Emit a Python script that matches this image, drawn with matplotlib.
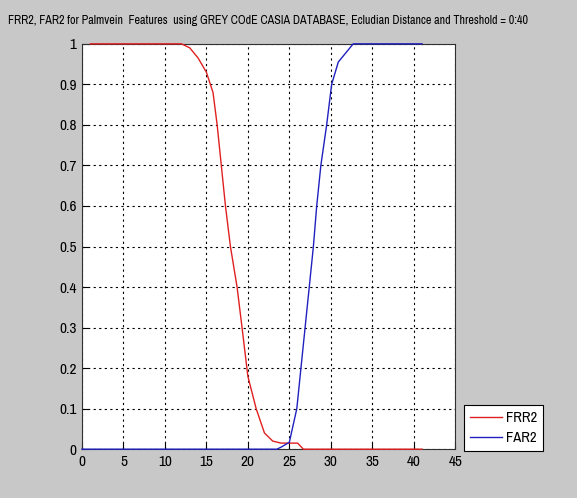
import matplotlib
matplotlib.use("Agg")
import matplotlib.pyplot as plt
from matplotlib import font_manager

# values
frr_x = [1, 12, 13, 14, 15, 15.8, 16.3, 16.8, 17.3, 17.9, 18.7, 19.3, 20, 21, 22, 23, 24, 25, 26, 26.7, 41]
frr_y = [1, 1, 0.99, 0.965, 0.93, 0.88, 0.8, 0.7, 0.6, 0.5, 0.4, 0.3, 0.18, 0.1, 0.04, 0.02, 0.015, 0.015, 0.015, 0, 0]
far_x = [0, 23.5, 24, 25, 25.9, 26.4, 26.9, 27.4, 27.9, 28.3, 28.8, 29.5, 30.1, 30.9, 32.7, 41]
far_y = [0, 0, 0.005, 0.017, 0.1, 0.2, 0.3, 0.4, 0.5, 0.6, 0.7, 0.8, 0.9, 0.955, 1, 1]
x_ticks = [0, 5, 10, 15, 20, 25, 30, 35, 40, 45]
y_ticks = [0, 0.1, 0.2, 0.3, 0.4, 0.5, 0.6, 0.7, 0.8, 0.9, 1]
y_labels = ["0", "0.1", "0.2", "0.3", "0.4", "0.5", "0.6", "0.7", "0.8", "0.9", "1"]
title = "FRR2, FAR2 for Palmvein  Features  using GREY COdE CASIA DATABASE, Ecludian Distance and Threshold = 0:40"

# look for a narrow sans face, like the original screenshot font
names = sorted({f.name for f in font_manager.fontManager.ttflist})
narrow = [n for n in names if "Narrow" in n or "Condensed" in n]
fam = narrow[0] if narrow else "Liberation Sans"
plt.rcParams["font.family"] = [fam, "DejaVu Sans"]

bg = "#c8c8c8"
fig = plt.figure(figsize=(5.77, 4.98), dpi=100, facecolor=bg)
ax = fig.add_axes([0.142, 0.098, 0.647, 0.814])

ax.plot(frr_x, frr_y, color="#e02020", lw=1, label="FRR2", zorder=3, clip_on=False)
ax.plot(far_x, far_y, color="#2020c0", lw=1, label="FAR2", zorder=3, clip_on=False)

ax.set_xlim(0, 45)
ax.set_ylim(0, 1)
ax.set_xticks(x_ticks)
ax.set_yticks(y_ticks)
ax.set_yticklabels(y_labels)
ax.tick_params(direction="in", labelsize=11, length=4, pad=4)
ax.grid(True, color="black", linestyle=(0, (2, 3)), linewidth=0.8)
for s in ax.spines.values():
    s.set_color("#303030")

t = fig.text(0.014, 0.958, title, fontsize=10.5, ha="left", va="center")
# shrink the title until it spans about the same width as the reference
r = fig.canvas.get_renderer()
w = t.get_window_extent(r).width
if w > 522:
    t.set_fontsize(10.5 * 522 / w)

leg = fig.legend(loc="lower left", bbox_to_anchor=(464 / 577, 1 - 451 / 498), fontsize=10.5,
                 fancybox=False, edgecolor="black", framealpha=1, handlelength=2.2,
                 handletextpad=0.3, borderpad=0.4, labelspacing=0.45, borderaxespad=0)
leg.get_frame().set_linewidth(0.8)

fig.savefig("out.png", dpi=100, facecolor=bg)
